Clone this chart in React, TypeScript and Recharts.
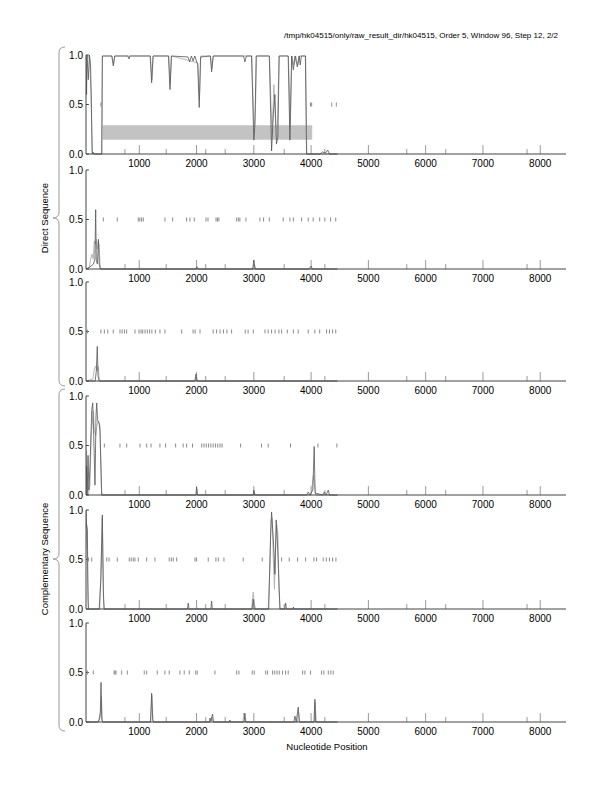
import React from "react"
import {
  ComposedChart,
  Line,
  Scatter,
  XAxis,
  YAxis,
  ReferenceArea,
  ReferenceLine,
} from "recharts"

type Pt = [number, number]

const X_DOMAIN: [number, number] = [70, 8450]
const X_TICKS = [1000, 2000, 3000, 4000, 5000, 6000, 7000, 8000]
const X_MINOR = [750, 1470, 2160, 2500, 3530, 4240, 5670, 6350, 7770]
const Y_TICKS = [0, 0.5, 1]

const TITLE = "/tmp/hk04515/only/raw_result_dir/hk04515, Order 5, Window 96, Step 12, 2/2"

// frame 1 (direct)
const p1Dark: Pt[] = [
  [70, 0.98], [80, 0.6], [88, 1.0], [110, 0.75], [130, 1.0], [150, 0.9], [170, 0.3], [180, 0.0],
  [192, 0.02], [210, 0.0], [345, 0.0], [355, 0.99], [520, 0.99], [547, 0.89], [570, 0.99],
  [800, 0.99], [820, 0.96], [840, 0.99], [1190, 0.99], [1216, 0.72], [1240, 0.99], [1510, 0.99],
  [1536, 0.65], [1560, 0.99], [1850, 0.98], [1880, 0.93], [1910, 0.99], [1940, 0.94], [1970, 0.99],
  [2020, 0.9], [2047, 0.47], [2070, 0.98], [2240, 0.99], [2263, 0.83], [2290, 0.99], [2820, 0.99],
  [2844, 0.93], [2870, 0.99], [2960, 0.99], [3000, 0.14], [3020, 0.3], [3040, 0.99], [3270, 0.99],
  [3310, 0.03], [3340, 0.4], [3368, 0.6], [3395, 0.1], [3420, 0.17], [3443, 0.99], [3600, 0.99],
  [3630, 0.14], [3660, 0.99], [3690, 0.85], [3720, 0.99], [3760, 0.88], [3790, 0.99], [3810, 0.9],
  [3830, 0.99], [3900, 0.99], [3920, 0.0], [4150, 0.0], [4200, 0.02], [4250, 0.01], [4290, 0.04],
  [4320, 0.0], [4460, 0.0],
]
const p1Gray: Pt[] = [
  [70, 1.0], [100, 0.98], [130, 0.98], [160, 0.6], [175, 0.02], [200, 0.0], [345, 0.0], [358, 0.99],
  [525, 0.99], [550, 0.9], [575, 0.99], [1195, 0.99], [1220, 0.75], [1245, 0.99], [1515, 0.99],
  [1540, 0.7], [1565, 0.99], [2025, 0.92], [2050, 0.55], [2075, 0.99], [2245, 0.99], [2268, 0.86],
  [2295, 0.99], [2965, 0.99], [3005, 0.2], [3030, 0.5], [3050, 0.99], [3275, 0.99], [3300, 0.5],
  [3320, 0.2], [3350, 0.7], [3380, 0.3], [3410, 0.25], [3440, 0.99], [3605, 0.99], [3635, 0.25],
  [3665, 0.99], [3700, 0.9], [3730, 0.99], [3770, 0.9], [3800, 0.99], [3905, 0.99], [3925, 0.0],
  [4460, 0.0],
]
const p1Marks = [330, 3990, 4010, 4360, 4440]

// frame 2 (direct)
const p2Dark: Pt[] = [
  [70, 0], [140, 0.02], [200, 0.05], [225, 0.1], [239, 0.6], [250, 0.08], [270, 0.05], [288, 0.3],
  [300, 0.05], [320, 0], [1990, 0], [2000, 0.02], [2020, 0], [2980, 0], [3000, 0.09], [3020, 0],
  [3960, 0], [4000, 0.03], [4020, 0], [4460, 0],
]
const p2Gray: Pt[] = [
  [70, 0], [130, 0.02], [150, 0.1], [175, 0.15], [195, 0.1], [215, 0.28], [230, 0.25], [250, 0.3],
  [265, 0.2], [280, 0.28], [300, 0.25], [315, 0.05], [330, 0], [2000, 0], [2010, 0.03], [2030, 0],
  [2990, 0], [3010, 0.05], [3030, 0], [4460, 0],
]
const p2Marks = [
  372, 616, 983, 1010, 1040, 1070, 1448, 1583, 1827, 1885, 1960, 2165, 2200, 2340, 2365, 2390,
  2700, 2730, 2757, 2862, 3106, 3170, 3270, 3513, 3630, 3690, 3834, 3950, 4036, 4150, 4240, 4340,
  4430,
]

// frame 3 (direct)
const p3Dark: Pt[] = [
  [70, 0], [230, 0], [250, 0.1], [267, 0.35], [280, 0.05], [300, 0], [1970, 0], [1990, 0.07],
  [2010, 0], [4460, 0],
]
const p3Gray: Pt[] = [
  [70, 0], [190, 0.02], [215, 0.12], [240, 0.15], [265, 0.1], [285, 0.15], [300, 0.02], [320, 0],
  [1975, 0], [1995, 0.05], [2015, 0], [4460, 0],
]
const p3Marks = [
  94, 330, 390, 450, 546, 663, 700, 740, 780, 925, 995, 1030, 1060, 1100, 1140, 1180, 1220, 1280,
  1361, 1448, 1740, 1940, 1975, 2060, 2290, 2350, 2410, 2470, 2530, 2612, 2850, 2900, 2990, 3195,
  3250, 3310, 3370, 3438, 3485, 3584, 3690, 3775, 3950, 4066, 4150, 4270, 4320, 4375, 4430,
]

// frame 4 (complementary)
const p4Dark: Pt[] = [
  [70, 0], [80, 0.29], [90, 0.0], [106, 0.4], [120, 0.05], [140, 0.3], [170, 0.85], [187, 0.93],
  [205, 0.6], [227, 0.1], [245, 0.8], [257, 0.93], [274, 0.75], [300, 0.72], [314, 0.65], [344, 0],
  [1990, 0], [2000, 0.08], [2015, 0], [2990, 0], [3000, 0.05], [3015, 0], [3920, 0], [3950, 0.03],
  [3980, 0], [4030, 0.05], [4054, 0.49], [4070, 0.02], [4200, 0], [4230, 0.03], [4260, 0],
  [4300, 0.05], [4320, 0], [4460, 0],
]
const p4Gray: Pt[] = [
  [70, 0], [80, 0.45], [94, 0.1], [110, 0], [140, 0.1], [160, 0.6], [200, 0.85], [215, 0.65],
  [240, 0.6], [260, 0.7], [290, 0.75], [314, 0.7], [340, 0.05], [350, 0], [1995, 0], [2005, 0.06],
  [2020, 0], [3000, 0], [3010, 0.03], [3025, 0], [4000, 0], [4040, 0.2], [4060, 0.1], [4080, 0],
  [4460, 0],
]
const p4Marks = [
  390, 663, 780, 1012, 1130, 1205, 1361, 1460, 1635, 1766, 1827, 1930, 2090, 2130, 2170, 2210,
  2250, 2290, 2330, 2370, 2410, 2445, 2770, 3135, 3250, 3640, 4120, 4450,
]

// frame 5 (complementary)
const p5Dark: Pt[] = [
  [70, 1.0], [80, 0.84], [94, 0.8], [105, 0.1], [111, 0], [300, 0], [330, 0.3], [355, 0.95],
  [372, 0.2], [385, 0], [1840, 0], [1855, 0.06], [1870, 0], [2250, 0], [2263, 0.08], [2275, 0],
  [2970, 0], [2990, 0.1], [3010, 0], [3260, 0], [3290, 0.7], [3310, 0.98], [3330, 0.8],
  [3350, 0.6], [3368, 0.35], [3390, 0.9], [3410, 0.7], [3430, 0.4], [3455, 0], [3540, 0],
  [3555, 0.06], [3570, 0], [3680, 0], [3690, 0.02], [3700, 0], [4460, 0],
]
const p5Gray: Pt[] = [
  [70, 0.6], [85, 0.85], [100, 0.3], [115, 0], [310, 0], [335, 0.5], [355, 0.92], [375, 0.1],
  [390, 0], [1990, 0], [2000, 0.03], [2010, 0], [2960, 0], [2990, 0.17], [3010, 0.05], [3030, 0],
  [3250, 0], [3280, 0.4], [3300, 0.9], [3320, 0.92], [3340, 0.5], [3360, 0.2], [3380, 0.6],
  [3400, 0.85], [3420, 0.75], [3440, 0.2], [3460, 0], [4460, 0],
]
const p5Marks = [
  111, 170, 431, 472, 616, 826, 860, 895, 925, 983, 1129, 1274, 1523, 1560, 1593, 1653, 1972,
  2000, 2204, 2338, 2380, 2478, 2815, 3147, 3485, 3618, 3764, 3904, 4049, 4096, 4211, 4265, 4320,
  4375, 4433,
]

// frame 6 (complementary)
const p6Dark: Pt[] = [
  [70, 0], [280, 0], [300, 0.03], [320, 0.1], [332, 0.4], [345, 0.02], [360, 0], [1195, 0],
  [1216, 0.29], [1235, 0.02], [1250, 0], [2225, 0], [2234, 0.04], [2250, 0.01], [2280, 0.08],
  [2295, 0], [2570, 0], [2583, 0.02], [2600, 0], [2830, 0], [2844, 0.09], [2860, 0], [3700, 0],
  [3717, 0.06], [3740, 0], [3775, 0.15], [3795, 0], [4050, 0], [4066, 0.23], [4080, 0], [4460, 0],
]
const p6Gray: Pt[] = [
  [70, 0], [290, 0], [320, 0.05], [340, 0.26], [355, 0.02], [370, 0], [1200, 0], [1220, 0.27],
  [1240, 0], [2250, 0], [2270, 0.05], [2290, 0], [2810, 0], [2825, 0.09], [2845, 0.02], [2860, 0],
  [3760, 0], [3780, 0.1], [3800, 0], [4055, 0], [4070, 0.2], [4090, 0], [4460, 0],
]
const p6Marks = [
  94, 197, 560, 577, 594, 693, 791, 1087, 1129, 1314, 1448, 1523, 1710, 1785, 1873, 1985, 2012,
  2321, 2700, 2740, 2972, 3007, 3207, 3240, 3327, 3365, 3405, 3444, 3500, 3555, 3600, 3852, 3892,
  3990, 4183, 4223, 4300, 4345, 4387,
]

// coding region bar in frame 1
const BAND = { x1: 360, x2: 4020, y1: 0.145, y2: 0.29 }

const PANELS = [
  { dark: p1Dark, gray: p1Gray, marks: p1Marks, band: true },
  { dark: p2Dark, gray: p2Gray, marks: p2Marks, band: false },
  { dark: p3Dark, gray: p3Gray, marks: p3Marks, band: false },
  { dark: p4Dark, gray: p4Gray, marks: p4Marks, band: false },
  { dark: p5Dark, gray: p5Gray, marks: p5Marks, band: false },
  { dark: p6Dark, gray: p6Gray, marks: p6Marks, band: false },
]
const PANEL_TOPS = [50, 165, 277, 391, 505, 618]

const FONT = "'Liberation Sans', Arial, sans-serif"
const AXIS = "#444"

const toRows = (pts: Pt[]) => pts.map(([x, y]) => ({ x, y }))

function StopMark(props: any) {
  const { cx, cy } = props
  if (cx == null || cy == null) return null
  return <line x1={cx} x2={cx} y1={cy - 2} y2={cy + 2} stroke="#8a8a8a" strokeWidth={1} />
}

function Panel({ dark, gray, marks, band }: { dark: Pt[]; gray: Pt[]; marks: number[]; band: boolean }) {
  return (
    <ComposedChart width={612} height={124} margin={{ top: 5, right: 46, left: 0, bottom: 0 }}>
      <XAxis
        type="number"
        dataKey="x"
        domain={X_DOMAIN}
        ticks={X_TICKS}
        allowDataOverflow
        height={20}
        tickLine={false}
        tickSize={4}
        tickMargin={1.5}
        axisLine={{ stroke: AXIS }}
        tick={{ fill: "#000", fontSize: 10, fontFamily: FONT }}
      />
      <YAxis
        type="number"
        dataKey="y"
        domain={[0, 1]}
        ticks={Y_TICKS}
        width={86}
        tickLine={false}
        tickSize={3}
        tickMargin={0}
        axisLine={{ stroke: AXIS }}
        tickFormatter={(v) => Number(v).toFixed(1)}
        tick={{ fill: "#000", fontSize: 10, fontFamily: FONT }}
      />
      {band ? (
        <ReferenceArea
          x1={BAND.x1}
          x2={BAND.x2}
          y1={BAND.y1}
          y2={BAND.y2}
          fill="#c3c3c3"
          fillOpacity={1}
          stroke="none"
        />
      ) : null}
      {X_TICKS.map((t) => (
        <ReferenceLine key={"M" + t} segment={[{ x: t, y: 0 }, { x: t, y: 0.09 }]} stroke="#999" />
      ))}
      {X_MINOR.map((t) => (
        <ReferenceLine key={"m" + t} segment={[{ x: t, y: 0 }, { x: t, y: 0.05 }]} stroke="#999" />
      ))}
      {Y_TICKS.map((t) => (
        <ReferenceLine key={"y" + t} segment={[{ x: 70, y: t }, { x: 120, y: t }]} stroke={AXIS} />
      ))}
      <Scatter
        data={marks.map((x) => ({ x, y: 0.5 }))}
        shape={<StopMark />}
        isAnimationActive={false}
      />
      <Line
        data={toRows(gray)}
        dataKey="y"
        type="linear"
        stroke="#b0b0b0"
        strokeWidth={0.9}
        dot={false}
        isAnimationActive={false}
      />
      <Line
        data={toRows(dark)}
        dataKey="y"
        type="linear"
        stroke="#555"
        strokeWidth={0.8}
        dot={false}
        isAnimationActive={false}
      />
    </ComposedChart>
  )
}

export default function App() {
  return (
    <div
      style={{
        position: "absolute",
        left: 0,
        top: 0,
        width: 612,
        height: 792,
        background: "#fff",
        fontFamily: FONT,
      }}
    >
      {PANELS.map((p, i) => (
        <div key={i} style={{ position: "absolute", left: 0, top: PANEL_TOPS[i] }}>
          <Panel dark={p.dark} gray={p.gray} marks={p.marks} band={p.band} />
        </div>
      ))}
      <svg
        width={612}
        height={792}
        style={{ position: "absolute", left: 0, top: 0, pointerEvents: "none" }}
      >
        <text x={558} y={37.5} textAnchor="end" fontSize={8} fontFamily={FONT} fill="#000">
          {TITLE}
        </text>
        <text x={327} y={750} textAnchor="middle" fontSize={9.5} fontFamily={FONT} fill="#000">
          Nucleotide Position
        </text>
        <text
          x={48}
          y={218}
          transform="rotate(-90 48 218)"
          textAnchor="middle"
          fontSize={9.5}
          fontFamily={FONT}
          fill="#000"
        >
          Direct Sequence
        </text>
        <text
          x={48}
          y={559}
          transform="rotate(-90 48 559)"
          textAnchor="middle"
          fontSize={9.5}
          fontFamily={FONT}
          fill="#000"
        >
          Complementary Sequence
        </text>
        <path
          d="M65,47 Q59,47 59,53 L59,212 Q59,218 53,218 Q59,218 59,224 L59,380 Q59,386 65,386"
          fill="none"
          stroke="#999"
        />
        <path
          d="M65,389 Q59,389 59,395 L59,553 Q59,559 53,559 Q59,559 59,565 L59,725 Q59,731 65,731"
          fill="none"
          stroke="#999"
        />
      </svg>
    </div>
  )
}
